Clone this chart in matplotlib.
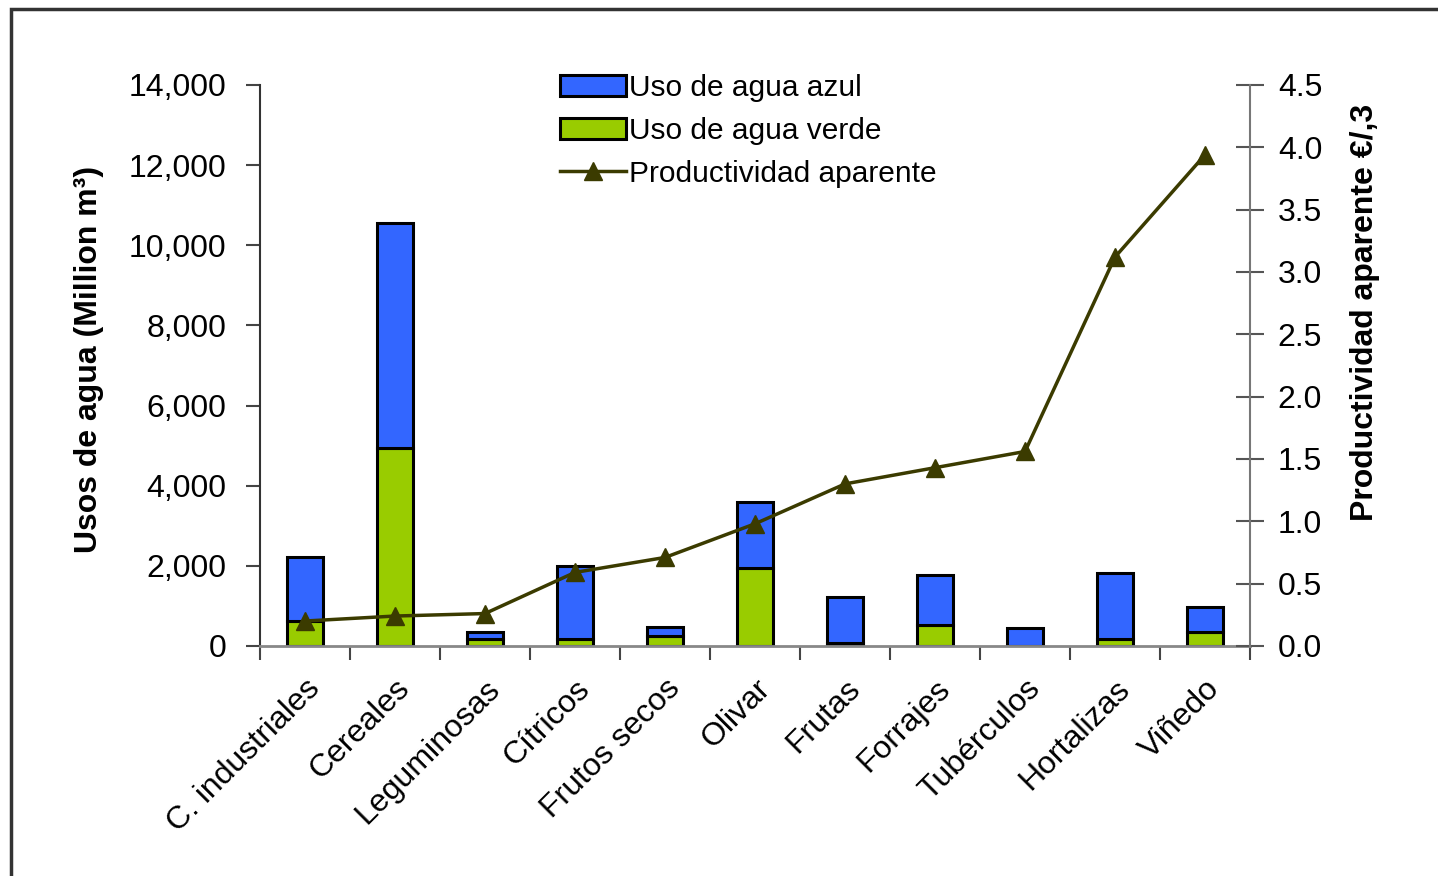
import matplotlib
matplotlib.use("Agg")
import matplotlib.pyplot as plt
from matplotlib.patches import Rectangle

plt.rcParams['font.family'] = ['Liberation Sans', 'DejaVu Sans']

# data
cultivos = ["C. industriales", "Cereales", "Leguminosas", "Cítricos", "Frutos secos",
            "Olivar", "Frutas", "Forrajes", "Tubérculos", "Hortalizas", "Viñedo"]
agua_verde = [630, 4940, 170, 180, 250, 1940, 80, 520, 10, 170, 340]
agua_total = [2230, 10560, 360, 2000, 480, 3600, 1230, 1770, 460, 1810, 970]
agua_azul = [t - v for t, v in zip(agua_total, agua_verde)]
productividad = [0.20, 0.24, 0.26, 0.59, 0.71, 0.98, 1.30, 1.43, 1.56, 3.12, 3.94]

BLUE = "#3366FF"
GREEN = "#99CC00"
OLIVE = "#3B3B00"

fig = plt.figure(figsize=(14.38, 8.76), dpi=100)
ax = fig.add_axes([0.1808, 0.2626, 0.6885, 0.6404])
x = list(range(len(cultivos)))

b_verde = ax.bar(x, agua_verde, width=0.4, color=GREEN, edgecolor="black", linewidth=2.2,
                 label="Uso de agua verde", zorder=2)
b_azul = ax.bar(x, agua_azul, width=0.4, bottom=agua_verde, color=BLUE, edgecolor="black",
                linewidth=2.2, label="Uso de agua azul", zorder=2)

ax.set_xlim(-0.5, len(cultivos) - 0.5)
ax.set_ylim(0, 14000)
ax.set_yticks(range(0, 14001, 2000))
ax.set_yticklabels([f"{v:,}" for v in range(0, 14001, 2000)], fontsize=23)
ax.set_ylabel("Usos de agua (Million m³)", fontsize=23, fontweight="bold")
ax.yaxis.set_label_coords(-0.158, 0.51)

ax.set_xticks([i + 0.5 for i in range(-1, len(cultivos))])
ax.set_xticklabels([])
ax.set_xticks(x, minor=True)
ax.set_xticklabels(cultivos, minor=True, rotation=45, ha="right", rotation_mode="anchor",
                   fontsize=23)
ax.tick_params(axis="x", which="minor", length=0, pad=20)
ax.tick_params(axis="x", which="major", length=10, width=1.5, color="#444444")
ax.tick_params(axis="y", length=10, width=1.5, color="#444444", pad=14)

ax.spines["top"].set_visible(False)
ax.spines["right"].set_visible(False)
ax.spines["left"].set_color("#333333")
ax.spines["left"].set_linewidth(1.5)
ax.spines["bottom"].set_color("#888888")
ax.spines["bottom"].set_linewidth(2)

ax2 = ax.twinx()
ax2.set_ylim(0, 4.5)
ax2.set_yticks([i * 0.5 for i in range(10)])
ax2.set_yticklabels([f"{i * 0.5:.1f}" for i in range(10)], fontsize=23)
ax2.tick_params(axis="y", direction="inout", length=20, width=1.5, color="#555555", pad=10)
ax2.spines["top"].set_visible(False)
ax2.spines["left"].set_visible(False)
ax2.spines["bottom"].set_visible(False)
ax2.spines["right"].set_color("#777777")
ax2.spines["right"].set_linewidth(1.5)
ln, = ax2.plot(x, productividad, color=OLIVE, linewidth=2.5, marker="^", markersize=13,
               label="Productividad aparente", zorder=3)
ax2.set_ylabel("Productividad aparente €/,3", fontsize=23, fontweight="bold")
ax2.yaxis.set_label_coords(1.101, 0.595)

leg = ax2.legend([b_azul, b_verde, ln], ["Uso de agua azul", "Uso de agua verde",
                                         "Productividad aparente"],
                 loc="upper left", bbox_to_anchor=(0.276, 1.068), frameon=False, fontsize=21.5,
                 handlelength=2.2, handletextpad=0.1, labelspacing=0.5)

# outer frame of the original picture
fig.patches.append(Rectangle((11 / 1438, -0.1), 1.2, 1 - 9 / 876 + 0.1,
                             transform=fig.transFigure, fill=False, edgecolor="#333333",
                             linewidth=2.5))

fig.savefig("out.png", dpi=100)
